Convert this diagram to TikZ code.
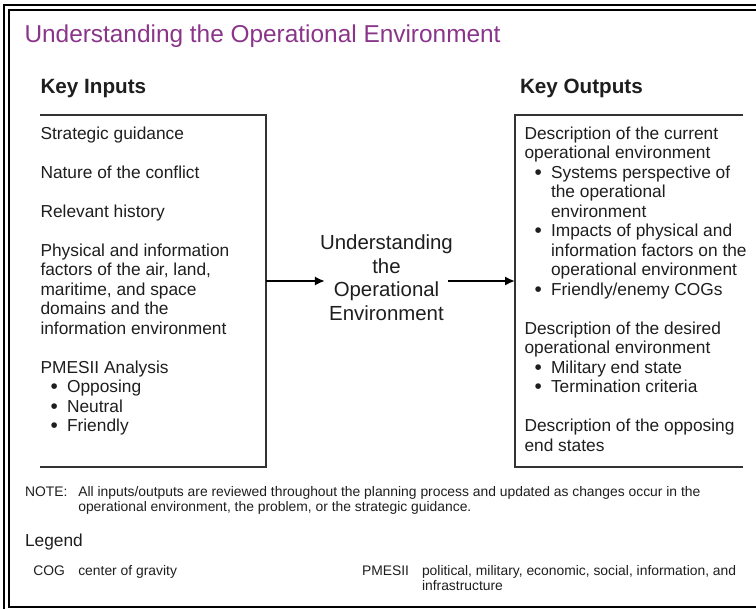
\documentclass[tikz,border=0pt]{standalone}
\usepackage{fontspec}
\setmainfont{Liberation Sans}
\usepackage{tikz}
\usetikzlibrary{positioning, arrows.meta}

\definecolor{titlepurple}{RGB}{138,52,138}
\definecolor{inkgray}{RGB}{30,30,30}
\newcommand{\bulitem}{\hspace*{7.5pt}\makebox[12.4pt][l]{\raisebox{-0.9pt}{\scalebox{1.2}{\textbullet}}}}
\newcommand{\bulcont}{\hspace*{19.9pt}}

\begin{document}
\begin{tikzpicture}[
			x=0.75pt, y=-0.75pt,
			every node/.style={inner sep=0pt, outer sep=0pt, text=inkgray},
			frameline/.style={line width=1.5pt, draw=black},
			boxline/.style={line width=1.5pt, draw=black!80},
			arr/.style={line width=1.5pt, draw=black, -{Latex[length=7.5pt,width=7pt]}},
			bodytext/.style={align=left, anchor=north west, font=\fontsize{13}{14.625}\selectfont},
			smalltext/.style={font=\fontsize{10.4}{11.25}\selectfont}
		]
		\useasboundingbox (0,0) rectangle (756,609);
		\clip (0,0) rectangle (756,609);
		\draw[frameline] (4,615) -- (4,5.5) -- (760,5.5);
		\draw[frameline] (760,10) -- (8.5,10) -- (8.5,607) -- (760,607);

		\node[anchor=base west, text=titlepurple, font=\fontsize{18.3}{22}\selectfont] (title) at (24.5,42.7) {Understanding the Operational Environment};
		\node[anchor=base west, font=\fontsize{15.5}{18}\selectfont\bfseries] (inhead) at (40.5,94) {Key Inputs};
		\node[anchor=base west, font=\fontsize{15.5}{18}\selectfont\bfseries] (outhead) at (520,94) {Key Outputs};

		\draw[boxline] (40,115) -- (266,115) -- (266,466.5) -- (40,466.5);
		\draw[boxline] (743,115) -- (515,115) -- (515,466.5) -- (743,466.5);
		\coordinate (inedge) at (266,281);
		\coordinate (outedge) at (515,281);

		\node[bodytext] (inputs) at (40.5,125.35) {\strut Strategic guidance\\[14.625pt]
			Nature of the conflict\\[14.625pt]
			Relevant history\\[14.625pt]
			Physical and information\\
			factors of the air, land,\\
			maritime, and space\\
			domains and the\\
			information environment\\[14.625pt]
			PMESII Analysis\\
			\bulitem Opposing\\
			\bulitem Neutral\\
			\bulitem Friendly};

		\node[bodytext] (outputs) at (524.5,125.35) {\strut Description of the current\\
			operational environment\\
			\bulitem Systems perspective of\\
			\bulcont the operational\\
			\bulcont environment\\
			\bulitem Impacts of physical and\\
			\bulcont information factors on the\\
			\bulcont operational environment\\
			\bulitem Friendly/enemy COGs\\[14.625pt]
			Description of the desired\\
			operational environment\\
			\bulitem Military end state\\
			\bulitem Termination criteria\\[14.625pt]
			Description of the opposing\\
			end states};

		\node[align=center, anchor=north, inner xsep=-3.5pt, font=\fontsize{15.3}{17.55}\selectfont] (centre) at (386.5,233.6) {\strut Understanding\\ the\\ Operational\\ Environment};

		\draw[arr] (inedge) -- (centre.west |- inedge);
		\draw[arr] (centre.east |- outedge) -- (outedge);

		\node[anchor=base west, smalltext] (notelabel) at (25,496) {NOTE:};
		\node[anchor=north west, align=left, smalltext] (notetext) at (78.3,485.5) {\strut All inputs/outputs are reviewed throughout the planning process and updated as changes occur in the\\
			operational environment, the problem, or the strategic guidance.};

		\node[anchor=base west, font=\fontsize{13}{15}\selectfont] (legend) at (25,546) {Legend};
		\node[anchor=base west, smalltext] (cogabbr) at (33.3,575.3) {COG};
		\node[anchor=base west, smalltext] (cogdef) at (78.3,575.3) {center of gravity};
		\node[anchor=base west, smalltext] (pmesiiabbr) at (362,575.3) {PMESII};
		\node[anchor=north west, align=left, smalltext] (pmesiidef) at (422,564.8) {\strut political, military, economic, social, information, and\\
			infrastructure};
	\end{tikzpicture}
\end{document}
